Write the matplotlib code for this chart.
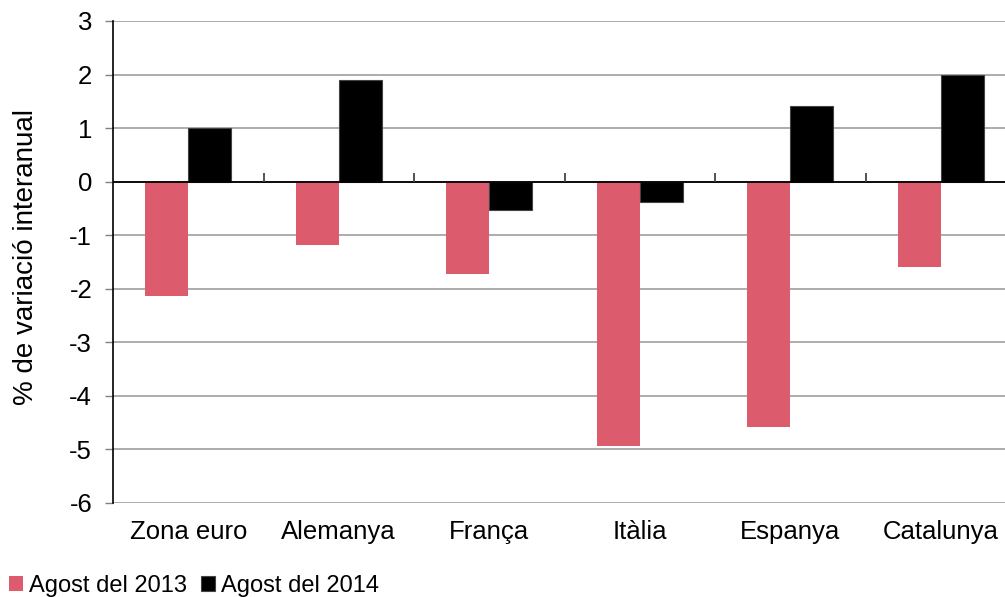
import matplotlib
matplotlib.use('Agg')
import matplotlib.pyplot as plt
import numpy as np

plt.rcParams['font.family'] = ['Liberation Sans', 'DejaVu Sans']
plt.rcParams['axes.unicode_minus'] = False

categories = ['Zona euro', 'Alemanya', 'França', 'Itàlia', 'Espanya', 'Catalunya']
agost_2013 = [-2.13, -1.18, -1.72, -4.93, -4.58, -1.59]
agost_2014 = [1.0, 1.9, -0.53, -0.38, 1.42, 2.0]
series_labels = ['Agost del 2013', 'Agost del 2014']

pink = '#DC5C6D'
bar_w = 0.285
fs = 18.5

fig = plt.figure(figsize=(10.05, 5.97), dpi=100)
ax = fig.add_axes([113 / 1005, 1 - 503 / 597, 903 / 1005, 482 / 597])

x = np.arange(len(categories))
ax.bar(x - bar_w / 2, agost_2013, width=bar_w, color=pink, label=series_labels[0], zorder=3)
ax.bar(x + bar_w / 2, agost_2014, width=bar_w, color='black', edgecolor='#444444',
       linewidth=0.8, label=series_labels[1], zorder=3)

ax.set_xlim(-0.5, len(categories) - 0.5)
ax.set_ylim(-6, 3)
ax.set_yticks(range(-6, 4))
ax.yaxis.grid(True, color='#A6A6A6', linewidth=1.3)
ax.set_axisbelow(True)

# zero line and category dividers
ax.axhline(0, color='black', linewidth=1.3, zorder=4)
ax.vlines(x[:-1] + 0.5, 0, 0.16, color='#444444', linewidth=1.3, zorder=4)

ax.set_xticks(x)
ax.set_xticklabels(categories)
ax.tick_params(axis='x', length=0, pad=12, labelsize=fs)
ax.tick_params(axis='y', length=6, width=1, color='#808080', pad=9, labelsize=fs)

for s in ['top', 'right', 'bottom']:
    ax.spines[s].set_visible(False)
ax.spines['left'].set_color('black')
ax.spines['left'].set_linewidth(1.2)

ax.set_ylabel('% de variació interanual', fontsize=20)
ax.yaxis.set_label_coords(-0.082, 0.51)

fig.legend(loc='lower left', bbox_to_anchor=(0.009, 0.0), ncol=2, frameon=False,
           fontsize=17, handlelength=0.6, handleheight=0.6, handletextpad=0.25,
           columnspacing=0.6, borderaxespad=0, borderpad=0)

fig.savefig('out.png', dpi=100)
